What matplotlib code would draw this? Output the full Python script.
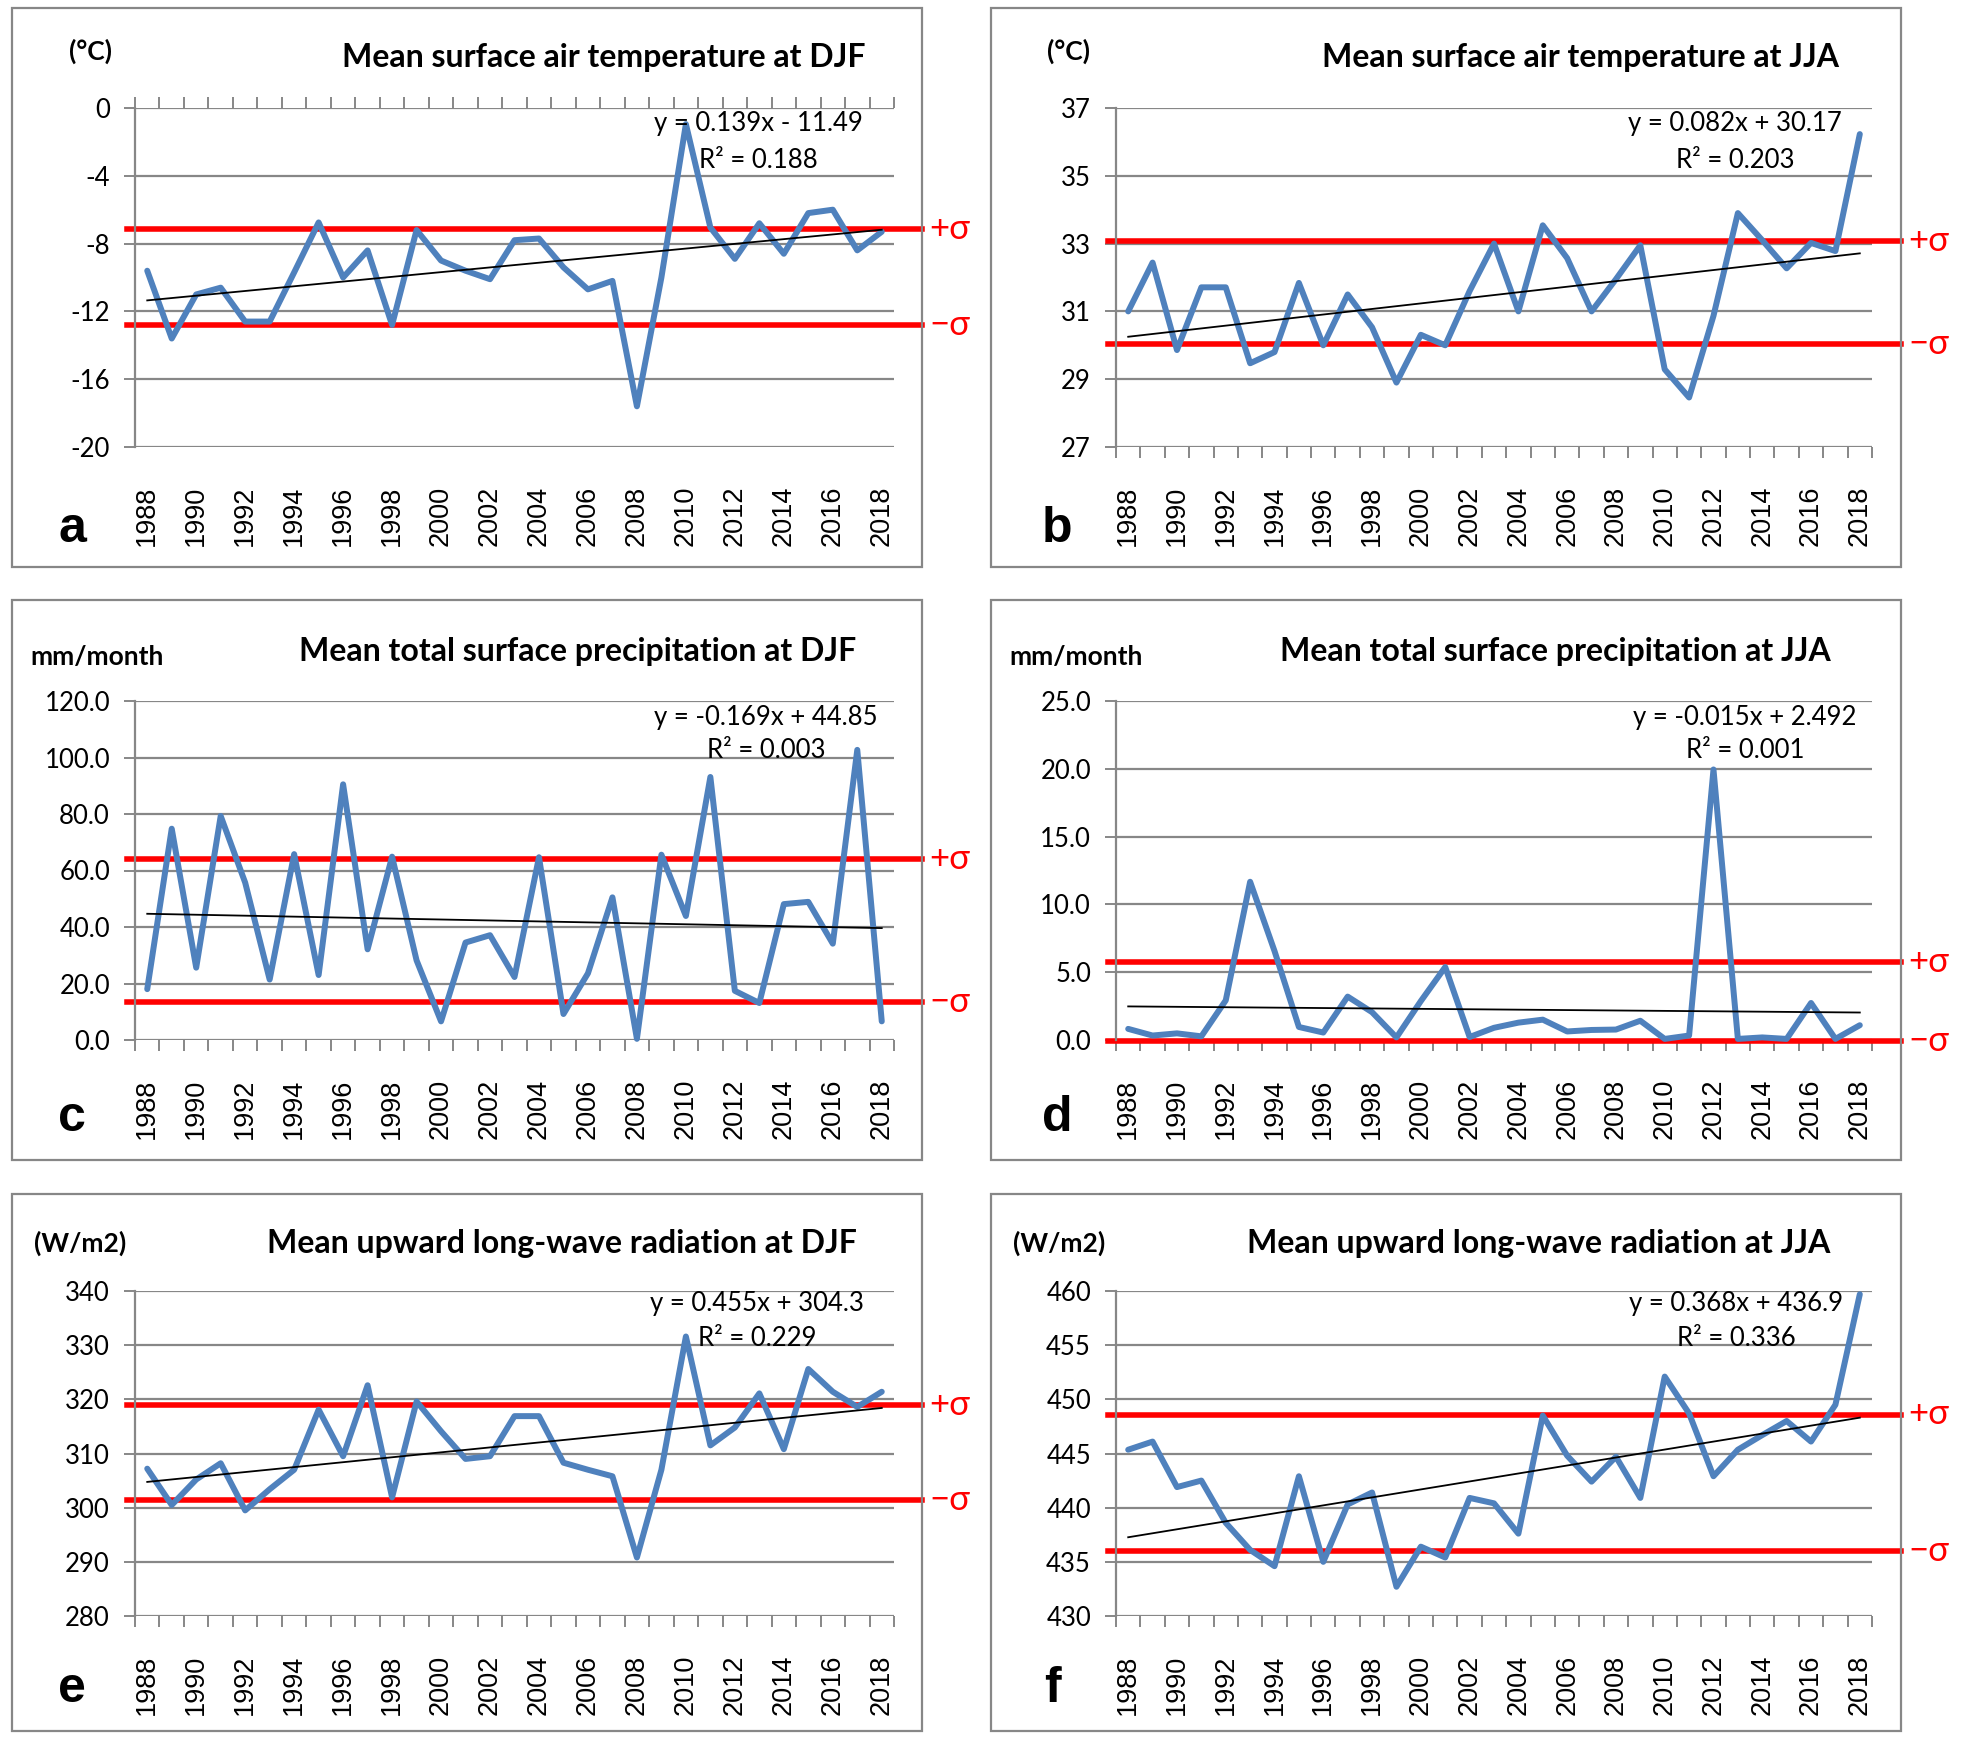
import matplotlib.pyplot as plt
import matplotlib.transforms as mtransforms
from matplotlib.patches import Rectangle
import numpy as np

plt.rcParams['font.family'] = ['Lato', 'DejaVu Sans']
plt.rcParams['axes.unicode_minus'] = False

years = np.arange(1988, 2019)

# values, 1988..2018
temp_djf = [-9.6, -13.6, -11.0, -10.6, -12.6, -12.6, -9.7, -6.75, -10.0, -8.4,
            -12.8, -7.2, -9.0, -9.6, -10.1, -7.8, -7.7, -9.4, -10.7, -10.2,
            -17.6, -10.0, -0.95, -7.05, -8.9, -6.8, -8.6, -6.2, -6.0, -8.4, -7.3]
temp_jja = [31.0, 32.44, 29.86, 31.71, 31.71, 29.47, 29.8, 31.84, 30.0, 31.5,
            30.53, 28.9, 30.31, 30.0, 31.6, 33.0, 31.0, 33.54, 32.57, 31.0,
            31.95, 32.95, 29.29, 28.46, 30.87, 33.9, 33.1, 32.27, 33.02, 32.78, 36.23]
prec_djf = [18.0, 74.8, 25.6, 79.3, 55.7, 21.4, 65.8, 23.0, 90.5, 32.1,
            64.9, 28.2, 6.6, 34.5, 37.1, 22.3, 64.7, 9.2, 23.6, 50.5,
            0.4, 65.6, 43.9, 93.1, 17.4, 13.1, 48.1, 48.9, 34.1, 102.7, 6.6]
prec_jja = [0.82, 0.33, 0.49, 0.27, 2.92, 11.67, 6.56, 0.96, 0.55, 3.2,
            2.05, 0.19, 2.87, 5.38, 0.22, 0.9, 1.28, 1.5, 0.63, 0.74,
            0.77, 1.42, 0.08, 0.33, 19.95, 0.08, 0.19, 0.08, 2.73, 0.08, 1.09]
olr_djf = [307.2, 300.5, 305.2, 308.2, 299.5, 303.4, 307.0, 318.1, 309.5, 322.6,
           301.9, 319.6, 314.1, 309.0, 309.5, 316.9, 316.9, 308.3, 307.0, 305.8,
           290.8, 307.0, 331.6, 311.5, 314.8, 321.1, 310.8, 325.6, 321.4, 318.6, 321.4]
olr_jja = [445.35, 446.1, 441.9, 442.5, 438.6, 436.1, 434.6, 442.9, 435.0, 440.3,
           441.4, 432.7, 436.4, 435.4, 440.9, 440.4, 437.6, 448.5, 444.8, 442.4,
           444.7, 440.9, 452.1, 448.7, 442.9, 445.35, 446.7, 448.0, 446.1, 449.5, 459.7]

series = [temp_djf, temp_jja, prec_djf, prec_jja, olr_djf, olr_jja]
titles = ['Mean surface air temperature at DJF', 'Mean surface air temperature at JJA',
          'Mean total surface precipitation at DJF', 'Mean total surface precipitation at JJA',
          'Mean upward long-wave radiation at DJF', 'Mean upward long-wave radiation at JJA']
units = ['(°C)', '(°C)', 'mm/month', 'mm/month', '(W/m2)', '(W/m2)']
letters = ['a', 'b', 'c', 'd', 'e', 'f']
y_min = [-20, 27, 0, 0, 280, 430]
y_max = [0, 37, 120, 25, 340, 460]
y_step = [4, 2, 20, 5, 10, 5]
y_fmt = ['{:.0f}', '{:.0f}', '{:.1f}', '{:.1f}', '{:.0f}', '{:.0f}']
trend_slope = [0.139, 0.082, -0.169, -0.015, 0.455, 0.368]
trend_icpt = [-11.49, 30.17, 44.85, 2.492, 304.3, 436.9]
eq_text = ['y = 0.139x - 11.49', 'y = 0.082x + 30.17', 'y = -0.169x + 44.85',
           'y = -0.015x + 2.492', 'y = 0.455x + 304.3', 'y = 0.368x + 436.9']
r2_text = ['R² = 0.188', 'R² = 0.203', 'R² = 0.003', 'R² = 0.001', 'R² = 0.229', 'R² = 0.336']
sigma_hi = [-7.15, 33.09, 64.1, 5.74, 318.9, 448.6]
sigma_lo = [-12.8, 30.04, 13.5, -0.05, 301.4, 436.0]

W, H = 1961, 1743
fig = plt.figure(figsize=(W / 100, H / 100), dpi=100)

# layout in pixels
frame_x = [(12, 922), (991, 1901)]
frame_y = [(8, 567), (600, 1160), (1194, 1731)]
plot_x = [(135, 894), (1116, 1872)]
plot_y = [(108, 447), (701, 1040), (1291, 1616)]
title_cx = [604, 1581, 578, 1555, 562, 1539]
title_cy = [58, 651, 1244]
eq_cx = [758, 1735, 766, 1745, 757, 1736]
eq_cy = [(124, 160), (718, 751), (1304, 1339)]
unit_x = [69, 1047, 30, 1009, 34, 1013]
unit_cy = [51, 657, 1243]
letter_cx = [72, 1057, 72, 1057, 72, 1052]
letter_by = [542, 1131, 1702]

grey = '#878787'
blue = '#4F81BD'

for i in range(6):
    r, c = divmod(i, 2)
    x0, x1 = plot_x[c]
    y0, y1 = plot_y[r]
    ax = fig.add_axes([x0 / W, 1 - y1 / H, (x1 - x0) / W, (y1 - y0) / H])

    # panel frame
    fx0, fx1 = frame_x[c]
    fy0, fy1 = frame_y[r]
    fig.add_artist(Rectangle((fx0 / W, 1 - fy1 / H), (fx1 - fx0) / W, (fy1 - fy0) / H,
                             transform=fig.transFigure, fill=False, ec=grey, lw=1.6))

    ticks = np.arange(y_min[i], y_max[i] + y_step[i] / 2, y_step[i])
    ax.set_ylim(y_min[i], y_max[i])
    ax.set_xlim(1987.5, 2018.5)
    ax.set_yticks(ticks)
    ax.set_yticklabels([y_fmt[i].format(t) for t in ticks], fontsize=18.5)
    for t in ticks:
        ax.axhline(t, color=grey, lw=1.6, zorder=0.5)

    for s in ['top', 'right', 'bottom']:
        ax.spines[s].set_visible(False)
    ax.spines['left'].set_color(grey)
    ax.spines['left'].set_linewidth(1.6)
    ax.tick_params(axis='y', length=8, width=1.4, color=grey, pad=10)

    ax.set_xticks(years[::2])
    ax.set_xticklabels([str(y) for y in years[::2]], rotation=90,
                       family='Liberation Sans', fontsize=19.5)
    ax.set_xticks(np.arange(1987.5, 2019), minor=True)
    if i == 0:
        # category axis crosses at 0, i.e. at the top
        ax.tick_params(axis='x', which='minor', bottom=False, top=True,
                       direction='out', length=8, width=1.4, color=grey)
    else:
        ax.tick_params(axis='x', which='minor', bottom=True, top=False,
                       direction='out', length=8, width=1.4, color=grey)
    ax.tick_params(axis='x', which='major', length=0, pad=28)

    # sigma lines
    pw = x1 - x0
    for val, lab in [(sigma_hi[i], '+σ'), (sigma_lo[i], '−σ')]:
        ax.axhline(val, xmin=-8 / pw, xmax=(fx1 - x0) / pw, color='#FF0000',
                   lw=4, zorder=2, clip_on=False)
        tr = mtransforms.blended_transform_factory(fig.transFigure, ax.transData)
        ax.text((fx1 + 7) / W, val, lab, transform=tr, color='#FF0000',
                fontsize=25, va='center', ha='left', clip_on=False)

    ax.plot(years, series[i], color=blue, lw=4.3, zorder=3,
            solid_joinstyle='round', solid_capstyle='round', clip_on=False)

    idx = np.arange(1, len(years) + 1)
    ax.plot(years, trend_slope[i] * idx + trend_icpt[i], color='black', lw=1.3, zorder=4)

    fig.text(title_cx[i] / W, 1 - title_cy[r] / H, titles[i], ha='center', va='center',
             fontsize=23, fontweight='bold')
    fig.text(eq_cx[i] / W, 1 - eq_cy[r][0] / H, eq_text[i], ha='center', va='center',
             fontsize=18.5)
    fig.text(eq_cx[i] / W, 1 - eq_cy[r][1] / H, r2_text[i], ha='center', va='center',
             fontsize=18.5)
    fig.text(unit_x[i] / W, 1 - unit_cy[r] / H, units[i], ha='left', va='center',
             fontsize=19, fontweight='bold')
    fig.text(letter_cx[i] / W, 1 - letter_by[r] / H, letters[i], ha='center',
             va='baseline', fontsize=36, fontweight='bold', family='Liberation Sans')

fig.savefig('out.png', dpi=100, facecolor='white')
